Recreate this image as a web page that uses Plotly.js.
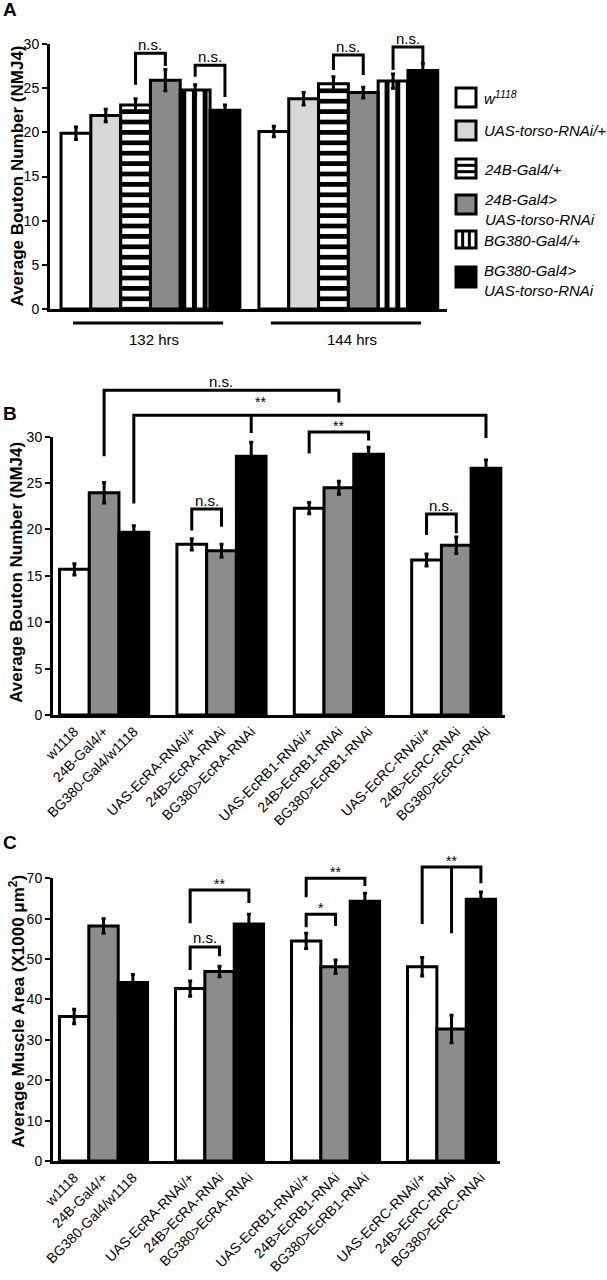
<!DOCTYPE html>
<html><head><meta charset="utf-8">
<script src="https://cdn.plot.ly/plotly-3.0.1.min.js"></script>
<style>html,body{margin:0;padding:0;background:#fff}#chart{width:607px;height:1280px}</style>
</head><body><div id="chart"></div>
<script>
// ---------------- DATA ----------------
// Panel A
const timepoints = ['132 hrs', '144 hrs'];
const genotypesA = ['w<sup>1118</sup>', 'UAS-torso-RNAi/+', '24B-Gal4/+', '24B-Gal4&gt;<br>UAS-torso-RNAi', 'BG380-Gal4/+', 'BG380-Gal4&gt;<br>UAS-torso-RNAi'];
const boutonA_132 = [19.9, 21.9, 23.1, 25.9, 24.8, 22.5];
const boutonA_132_err = [0.7, 0.7, 0.7, 1.2, 0.6, 0.6];
const boutonA_144 = [20.1, 23.8, 25.5, 24.5, 25.8, 27.0];
const boutonA_144_err = [0.6, 0.7, 0.8, 0.6, 0.8, 0.8];
const yTicksA = [0, 5, 10, 15, 20, 25, 30];

// Panels B and C
const genotypesBC = ['w1118', '24B-Gal4/+', 'BG380-Gal4/w1118',
  'UAS-EcRA-RNAi/+', '24B>EcRA-RNAi', 'BG380>EcRA-RNAi',
  'UAS-EcRB1-RNAi/+', '24B>EcRB1-RNAi', 'BG380>EcRB1-RNAi',
  'UAS-EcRC-RNAi/+', '24B>EcRC-RNAi', 'BG380>EcRC-RNAi'];
const boutonB = [15.7, 23.95, 19.7, 18.4, 17.7, 27.9, 22.3, 24.5, 28.1, 16.7, 18.3, 26.6];
const boutonB_err = [0.6, 1.1, 0.7, 0.6, 0.7, 1.5, 0.6, 0.7, 0.75, 0.65, 0.9, 0.9];
const yTicksB = [0, 5, 10, 15, 20, 25, 30];
const muscleC = [35.8, 58.2, 44.2, 42.7, 46.9, 58.7, 54.5, 48.1, 64.3, 48.1, 32.7, 64.8];
const muscleC_err = [1.8, 1.8, 2.0, 1.9, 1.3, 2.4, 1.9, 1.7, 2.0, 2.3, 3.4, 1.8];
const yTicksC = [0, 10, 20, 30, 40, 50, 60, 70];

// Significance brackets (bar indices + heights in data units)
const sigA = [
  {g: 0, a: 2, b: 3, top: 28.95, legA: 25.4, legB: 27.5, label: 'n.s.'},
  {g: 0, a: 4, b: 5, top: 27.6, legA: 26.3, legB: 24.0, label: 'n.s.'},
  {g: 1, a: 2, b: 3, top: 28.75, legA: 27.05, legB: 26.5, label: 'n.s.'},
  {g: 1, a: 4, b: 5, top: 29.66, legA: 27.05, legB: 27.85, label: 'n.s.'}
];
const sigB = [
  {a: 1, b: 7, top: 35.0, legA: 27.9, legB: 33.7, label: 'n.s.'},
  {a: 2, b: 11, mid: 5, top: 32.3, legA: 22.8, legB: 29.85, legM: 30.4, label: '**', labelAt: 5.3, lift: 13},
  {a: 6, b: 8, top: 30.5, legA: 28.2, legB: 29.6, label: '**'},
  {a: 3, b: 4, top: 22.2, legA: 19.9, legB: 20.3, label: 'n.s.'},
  {a: 9, b: 10, top: 21.66, legA: 19.4, legB: 19.6, label: 'n.s.'}
];
const sigC = [
  {a: 3, b: 5, top: 67.1, legA: 58.9, legB: 63.9, label: '**'},
  {a: 3, b: 4, top: 53.0, legA: 47.3, legB: 50.7, label: 'n.s.'},
  {a: 6, b: 8, top: 70.0, legA: 65.3, legB: 68.1, label: '**'},
  {a: 6, b: 7, top: 61.1, legA: 57.9, legB: 58.2, label: '*'},
  {a: 9, b: 11, mid: 10, top: 72.8, legA: 58.7, legB: 68.8, legM: 56.4, label: '**', labelAt: 10}
];

// ---------------- LAYOUT CONSTANTS ----------------
const W = 607, H = 1280;
const FONT = 'Arial, "Liberation Sans", Helvetica, sans-serif';
const GAP_A = 6.64, GAP_BC = 3.95;
const geomA = {x0: 50, x1: 447, y0: 44, y1: 309, xr: [-0.87, 12.45], yr: [0, 30]};
const geomB = {x0: 53, x1: 505, y0: 436.7, y1: 715, xr: [-0.72, 14.49], yr: [0, 30]};
const geomC = {x0: 53, x1: 500, y0: 878.3, y1: 1161, xr: [-0.72, 14.5], yr: [0, 70]};

const px = p => p / W;
const py = p => 1 - p / H;
function toPX(g, xv) { return g.x0 + (xv - g.xr[0]) / (g.xr[1] - g.xr[0]) * (g.x1 - g.x0); }
function toPY(g, yv) { return g.y1 - (yv - g.yr[0]) / (g.yr[1] - g.yr[0]) * (g.y1 - g.y0); }
const posA = (g, k) => g * GAP_A + k;
const posBC = i => Math.floor(i / 3) * GAP_BC + (i % 3);
const posBCf = v => posBC(Math.floor(v)) + (v % 1);

const stylesA = [
  {color: '#ffffff'},
  {color: '#d7d7d7'},
  {color: '#ffffff', pattern: {shape: '-', size: 10.4, solidity: 0.45, fgcolor: '#000', fgopacity: 1}},
  {color: '#8a8a8a'},
  {color: '#ffffff', pattern: {shape: '|', size: 10.7, solidity: 0.47, fgcolor: '#000', fgopacity: 1}},
  {color: '#000000'}
];
const colorsBC = ['#ffffff', '#8c8c8c', '#000000'];

// ---------------- TRACES ----------------
const traces = [];
stylesA.forEach((st, k) => {
  const marker = {color: st.color, line: {color: '#000', width: 3}};
  if (st.pattern) marker.pattern = st.pattern;
  traces.push({
    type: 'bar', xaxis: 'x', yaxis: 'y',
    x: timepoints.map((t, g) => posA(g, k)),
    y: [boutonA_132[k], boutonA_144[k]],
    width: 1, marker: marker,
    error_y: {type: 'data', array: [boutonA_132_err[k], boutonA_144_err[k]], color: '#000', thickness: 3, width: 2},
    showlegend: false, hoverinfo: 'skip'
  });
});
traces.push({
  type: 'bar', xaxis: 'x2', yaxis: 'y2',
  x: genotypesBC.map((n, i) => posBC(i)), y: boutonB, width: 1,
  marker: {color: genotypesBC.map((n, i) => colorsBC[i % 3]), line: {color: '#000', width: 3}},
  error_y: {type: 'data', array: boutonB_err, color: '#000', thickness: 3, width: 2},
  showlegend: false, hoverinfo: 'skip'
});
traces.push({
  type: 'bar', xaxis: 'x3', yaxis: 'y3',
  x: genotypesBC.map((n, i) => posBC(i)), y: muscleC, width: 1,
  marker: {color: genotypesBC.map((n, i) => colorsBC[i % 3]), line: {color: '#000', width: 3}},
  error_y: {type: 'data', array: muscleC_err, color: '#000', thickness: 3, width: 2},
  showlegend: false, hoverinfo: 'skip'
});

// ---------------- AXES ----------------
function yAxis(g, ticks, anchor) {
  return {domain: [py(g.y1), py(g.y0)], range: g.yr, anchor: anchor,
    tickvals: ticks, ticktext: ticks.map(String), ticks: 'outside', ticklen: 5, tickwidth: 2, tickcolor: '#000',
    showline: true, linewidth: 3, linecolor: '#000', showgrid: false, zeroline: false,
    tickfont: {family: FONT, size: 14, color: '#000'}, fixedrange: true};
}
function xAxis(g, anchor, extra) {
  return Object.assign({domain: [px(g.x0), px(g.x1)], range: g.xr, anchor: anchor,
    showline: true, linewidth: 3, linecolor: '#000', showgrid: false, zeroline: false, ticks: '',
    fixedrange: true}, extra);
}

// ---------------- SHAPES & ANNOTATIONS ----------------
const shapes = [], annotations = [];
const LINE = {color: '#000', width: 3};

function bracket(g, xa, xb, s, xm) {
  const xA = px(toPX(g, xa)), xB = px(toPX(g, xb));
  const yT = py(toPY(g, s.top));
  let path = `M${xA},${py(toPY(g, s.legA))} L${xA},${yT} L${xB},${yT} L${xB},${py(toPY(g, s.legB))}`;
  if (xm !== undefined) {
    const xM = px(toPX(g, xm));
    path += ` M${xM},${yT} L${xM},${py(toPY(g, s.legM))}`;
  }
  shapes.push({type: 'path', xref: 'paper', yref: 'paper', path: path, line: LINE});
}
function sigLabel(g, xv, s) {
  const isStar = s.label.indexOf('*') >= 0;
  const lift = s.lift !== undefined ? s.lift : (isStar ? 6 : 9);
  annotations.push({xref: 'paper', yref: 'paper', x: px(toPX(g, xv)), y: py(toPY(g, s.top) - lift),
    xanchor: 'center', yanchor: 'middle', showarrow: false, text: s.label,
    font: {family: FONT, size: isStar ? 14 : 15, color: '#000'}});
}
sigA.forEach(s => {
  bracket(geomA, posA(s.g, s.a), posA(s.g, s.b), s);
  sigLabel(geomA, (posA(s.g, s.a) + posA(s.g, s.b)) / 2, s);
});
sigB.forEach(s => {
  bracket(geomB, posBC(s.a), posBC(s.b), s, s.mid !== undefined ? posBC(s.mid) : undefined);
  sigLabel(geomB, s.labelAt !== undefined ? posBCf(s.labelAt) : (posBC(s.a) + posBC(s.b)) / 2, s);
});
sigC.forEach(s => {
  bracket(geomC, posBC(s.a), posBC(s.b), s, s.mid !== undefined ? posBC(s.mid) : undefined);
  sigLabel(geomC, s.labelAt !== undefined ? posBCf(s.labelAt) : (posBC(s.a) + posBC(s.b)) / 2, s);
});

// Panel A group underlines and labels
timepoints.forEach((t, g) => {
  shapes.push({type: 'line', xref: 'paper', yref: 'paper',
    x0: px(toPX(geomA, posA(g, 0) - 0.1)), x1: px(toPX(geomA, posA(g, 5) - 0.06)),
    y0: py(323), y1: py(323), line: LINE});
  annotations.push({xref: 'paper', yref: 'paper', x: px(toPX(geomA, posA(g, 2.5)) + 4), y: py(339),
    xanchor: 'center', yanchor: 'middle', showarrow: false, text: t,
    font: {family: FONT, size: 15, color: '#000'}});
});

// Panel A legend (swatches + italic labels)
const legendRows = [
  {y0: 88, y1: 107, ty: 97},
  {y0: 121, y1: 140, ty: 131},
  {y0: 159, y1: 178, ty: 169, stripes: 'h'},
  {y0: 195, y1: 214, ty: 209},
  {y0: 231, y1: 248, ty: 240, stripes: 'v'},
  {y0: 267, y1: 287, ty: 280}
];
const LX0 = 456, LX1 = 476;
legendRows.forEach((r, k) => {
  shapes.push({type: 'rect', xref: 'paper', yref: 'paper', x0: px(LX0), x1: px(LX1), y0: py(r.y1), y1: py(r.y0),
    fillcolor: stylesA[k].color, line: LINE});
  if (r.stripes === 'h') {
    [1, 2].forEach(j => {
      const yy = r.y0 + (r.y1 - r.y0) * j / 3;
      shapes.push({type: 'line', xref: 'paper', yref: 'paper', x0: px(LX0), x1: px(LX1), y0: py(yy), y1: py(yy), line: LINE});
    });
  }
  if (r.stripes === 'v') {
    [1, 2].forEach(j => {
      const xx = LX0 + (LX1 - LX0) * j / 3;
      shapes.push({type: 'line', xref: 'paper', yref: 'paper', x0: px(xx), x1: px(xx), y0: py(r.y0), y1: py(r.y1), line: LINE});
    });
  }
  annotations.push({xref: 'paper', yref: 'paper', x: px(482), y: py(r.ty), xanchor: 'left', yanchor: 'middle',
    align: 'left', showarrow: false, text: '<i>' + genotypesA[k].replace('<br>', '</i><br><i>') + '</i>',
    font: {family: FONT, size: 15, color: '#000'}});
});

// Y-axis titles
const yTitles = [
  {g: geomA, text: 'Average Bouton Number (NMJ4)', dy: 0},
  {g: geomB, text: 'Average Bouton Number (NMJ4)', dy: -3},
  {g: geomC, text: 'Average Muscle Area (X1000 \u03bcm<sup>2</sup>)', dy: -8}
];
yTitles.forEach(t => {
  annotations.push({xref: 'paper', yref: 'paper', x: px(17), y: py((t.g.y0 + t.g.y1) / 2 + t.dy),
    xanchor: 'center', yanchor: 'middle', textangle: -90, showarrow: false, text: '<b>' + t.text + '</b>',
    font: {family: FONT, size: 17, color: '#000'}});
});

// Panel letters
[['A', 9.5], ['B', 413.5], ['C', 842]].forEach(([l, y]) => {
  annotations.push({xref: 'paper', yref: 'paper', x: px(1), y: py(y), xanchor: 'left', yanchor: 'middle',
    showarrow: false, text: '<b>' + l + '</b>', font: {family: FONT, size: 19, color: '#000'}});
});

const layout = {
  width: W, height: H, margin: {l: 0, r: 0, t: 0, b: 0},
  paper_bgcolor: '#fff', plot_bgcolor: 'rgba(0,0,0,0)',
  barmode: 'overlay', showlegend: false,
  font: {family: FONT, color: '#000'},
  xaxis: xAxis(geomA, 'y', {showticklabels: false}),
  yaxis: yAxis(geomA, yTicksA, 'x'),
  xaxis2: xAxis(geomB, 'y2', {tickvals: genotypesBC.map((n, i) => posBC(i)), ticktext: genotypesBC, tickangle: -45,
    tickfont: {family: FONT, size: 14, color: '#000'}}),
  yaxis2: yAxis(geomB, yTicksB, 'x2'),
  xaxis3: xAxis(geomC, 'y3', {tickvals: genotypesBC.map((n, i) => posBC(i)), ticktext: genotypesBC, tickangle: -45,
    tickfont: {family: FONT, size: 14, color: '#000'}}),
  yaxis3: yAxis(geomC, yTicksC, 'x3'),
  shapes: shapes, annotations: annotations
};

Plotly.newPlot('chart', traces, layout, {staticPlot: true, displayModeBar: false});
</script>
</body></html>
